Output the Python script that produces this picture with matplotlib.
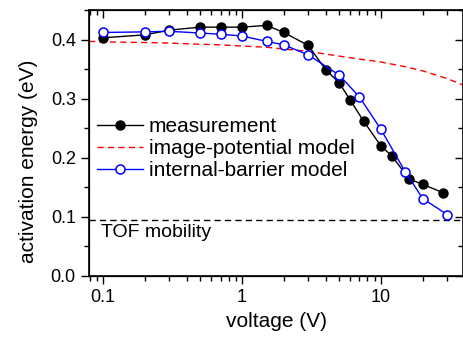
import matplotlib.pyplot as plt
from matplotlib.ticker import LogLocator, MultipleLocator, FixedLocator, NullFormatter

plt.rcParams['font.family'] = ['Liberation Sans', 'DejaVu Sans']

# measurement (filled black circles)
meas_v = [0.1, 0.2, 0.3, 0.5, 0.7, 1.0, 1.5, 2.0, 3.0, 4.0, 5.0, 6.0, 7.5, 10, 12, 16, 20, 28]
meas_e = [0.403, 0.408, 0.416, 0.421, 0.421, 0.421, 0.424, 0.412, 0.390, 0.349, 0.327,
          0.298, 0.262, 0.220, 0.203, 0.164, 0.155, 0.141]

# internal-barrier model (open blue circles)
ib_v = [0.1, 0.2, 0.3, 0.5, 0.7, 1.0, 1.5, 2.0, 3.0, 5.0, 7.0, 10, 15, 20, 30]
ib_e = [0.412, 0.413, 0.414, 0.411, 0.409, 0.406, 0.397, 0.391, 0.374, 0.340, 0.303,
        0.248, 0.176, 0.131, 0.104]

# image-potential model (red dashed curve)
ip_v = [0.079, 0.1, 0.2, 0.3, 0.5, 0.7, 1.0, 1.5, 2.0, 3.0, 5.0, 7.0, 10, 15, 20, 30, 39]
ip_e = [0.397, 0.396, 0.395, 0.394, 0.392, 0.391, 0.389, 0.387, 0.384, 0.380, 0.372,
        0.367, 0.362, 0.354, 0.347, 0.334, 0.323]

tof_level = 0.095

fig = plt.figure(figsize=(4.64, 3.44), dpi=100)
ax = fig.add_axes([89 / 464, 68 / 344, 374 / 464, 266 / 344])

ax.plot(meas_v, meas_e, '-o', color='black', lw=1, ms=6.5, mfc='black', mec='black',
        label='measurement', zorder=3)
ax.plot(ip_v, ip_e, '--', color='red', lw=1, dashes=(4.5, 3), label='image-potential model', zorder=2)
ax.plot(ib_v, ib_e, '-o', color='blue', lw=1, ms=6.5, mfc='white', mec='blue', mew=1.1,
        label='internal-barrier model', zorder=4)
ax.axhline(tof_level, color='black', lw=1, ls='--', dashes=(4.5, 3), zorder=1)
ax.text(0.096, 0.073, 'TOF mobility', fontsize=14, va='center', ha='left')

ax.set_xscale('log')
ax.set_xlim(0.079, 39)
ax.set_ylim(0, 0.45)

ax.xaxis.set_major_locator(FixedLocator([0.1, 1, 10]))
ax.xaxis.set_major_formatter(plt.FixedFormatter(['0.1', '1', '10']))
ax.xaxis.set_minor_locator(LogLocator(base=10, subs=range(2, 10)))
ax.xaxis.set_minor_formatter(NullFormatter())
ax.yaxis.set_major_locator(MultipleLocator(0.1))
ax.yaxis.set_minor_locator(MultipleLocator(0.05))
ax.yaxis.set_major_formatter(plt.FormatStrFormatter('%.1f'))

ax.tick_params(which='both', direction='out', labelsize=13, width=1, top=False, right=False)
ax.tick_params(which='major', length=6)
ax.tick_params(which='minor', length=3.5)
for s in ax.spines.values():
    s.set_linewidth(1.2)

# mirrored inward ticks on top and right
ax2 = ax.twiny()
ax2.set_xscale('log')
ax2.set_xlim(ax.get_xlim())
ax2.xaxis.set_major_locator(FixedLocator([0.1, 1, 10]))
ax2.xaxis.set_minor_locator(LogLocator(base=10, subs=range(2, 10)))
ax2.tick_params(which='both', direction='in', labeltop=False, width=1)
ax2.tick_params(which='major', length=6)
ax2.tick_params(which='minor', length=3.5)
ax3 = ax.twinx()
ax3.set_ylim(ax.get_ylim())
ax3.yaxis.set_major_locator(MultipleLocator(0.1))
ax3.yaxis.set_minor_locator(MultipleLocator(0.05))
ax3.tick_params(which='both', direction='in', labelright=False, width=1)
ax3.tick_params(which='major', length=6)
ax3.tick_params(which='minor', length=3.5)

ax.set_xlabel('voltage (V)', fontsize=15, labelpad=4)
ax.set_ylabel('activation energy (eV)', fontsize=15)
ax.yaxis.set_label_coords(-0.137, 0.43)

ax.legend(loc='upper left', bbox_to_anchor=(-0.018, 0.652), frameon=False, fontsize=15,
          handlelength=2.2, handletextpad=0.3, labelspacing=0.15, borderpad=0.2)

fig.savefig('out.png', dpi=100)
